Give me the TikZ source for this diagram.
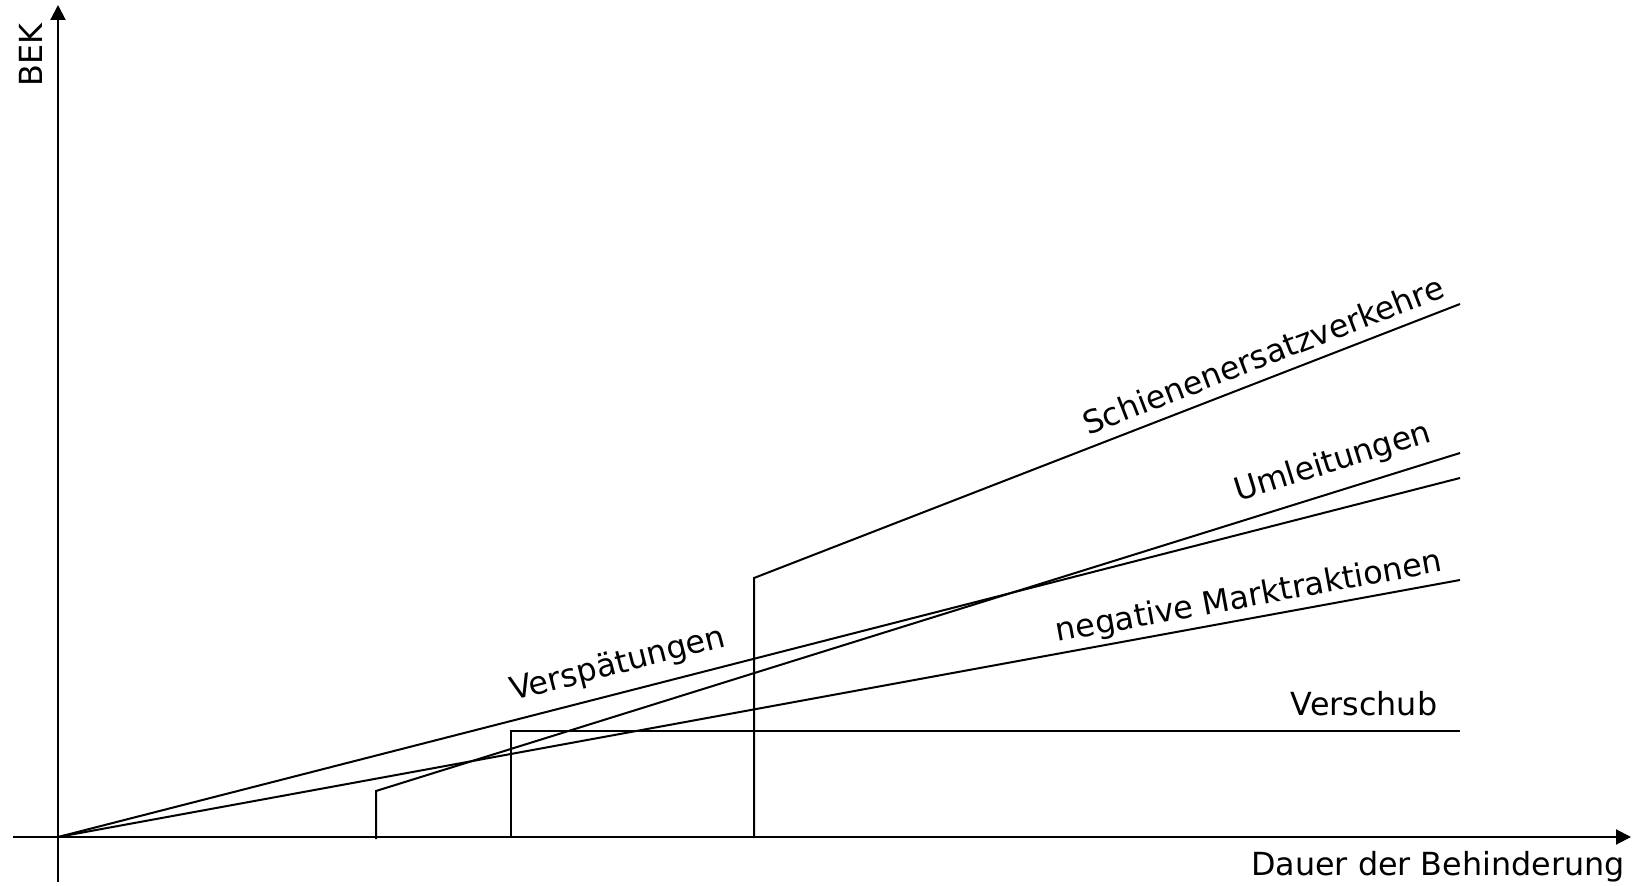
\documentclass[tikz,border=0pt]{standalone}
\usepackage{fontspec}
\setmainfont{DejaVu Sans}
\usetikzlibrary{arrows.meta}
\begin{document}
\begin{tikzpicture}[x=0.5pt,y=-0.5pt,
  curve/.style={line width=1pt, line join=miter},
  axis/.style={line width=1pt, -{Triangle[length=7.5pt,width=7.5pt]}},
  lbl/.style={font=\fontsize{15.9}{19}\selectfont, inner sep=0pt}]
\useasboundingbox (0,0) rectangle (1642,886);
% axes
\coordinate (O) at (58,837);
\coordinate (ybot) at (58,882);
\coordinate (ytop) at (58,5);
\coordinate (xleft) at (13,837);
\coordinate (xright) at (1631,837);
\draw[axis] (ybot) -- (ytop);
\draw[axis] (xleft) -- (xright);
% curves
\coordinate (uA) at (376,839);
\coordinate (uB) at (376,791);
\coordinate (uC) at (1460,453);
\draw[curve] (uA) -- (uB) -- (uC);
\coordinate (vA) at (511,837);
\coordinate (vB) at (511,731);
\coordinate (vC) at (1460,731);
\draw[curve] (vA) -- (vB) -- (vC);
\coordinate (sA) at (754,838);
\coordinate (sB) at (754,578);
\coordinate (sC) at (1460,304);
\draw[curve] (sA) -- (sB) -- (sC);
\coordinate (pC) at (1460,478);
\draw[curve] (O) -- (pC);
\coordinate (mC) at (1460,580);
\draw[curve] (O) -- (mC);
% labels
\node[lbl, rotate=90] (bek) at (31,55) {BEK};
\node[lbl] (dauer) at (1438,867) {Dauer der Behinderung};
\node[lbl] (verschub) at (1364,704) {Verschub};
\node[lbl, rotate=21.2] (sev) at (1263,355) {Schienenersatzverkehre};
\node[lbl, rotate=17.3] (uml) at (1333,463) {Umleitungen};
\node[lbl, rotate=14.4] (versp) at (618,665) {Verspätungen};
\node[lbl, rotate=10.4] (neg) at (1249,598) {negative Marktraktionen};
\end{tikzpicture}
\end{document}
